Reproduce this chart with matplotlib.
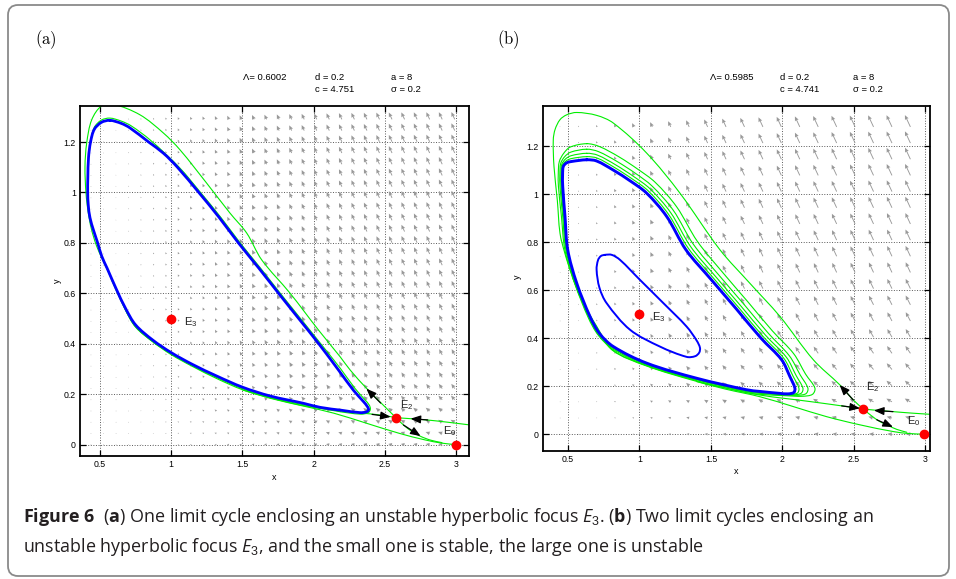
import numpy as np
import matplotlib
matplotlib.use("Agg")
import matplotlib.pyplot as plt
from matplotlib import font_manager as fm
from matplotlib.patches import FancyBboxPatch, PathPatch
from matplotlib.path import Path
from matplotlib.transforms import IdentityTransform

# ---------------- data: panel (a) ----------------
A_BLUE_X = [0.57,0.65,0.711,0.842,0.945,1.044,1.194,1.338,1.472,1.615,1.754,1.895,2.036,2.174,2.28,2.349,2.378,2.385,2.37,2.326,2.2,2.045,1.928,1.694,1.5,1.32,1.15,1.0,0.87,0.75,0.68,0.617,0.55,0.512,0.484,0.455,0.43,0.418,0.414,0.415,0.42,0.434,0.46,0.51,0.57]
A_BLUE_Y = [1.286,1.274,1.256,1.2,1.156,1.1,1.0,0.9,0.8,0.7,0.6,0.5,0.4,0.296,0.215,0.171,0.15,0.138,0.13,0.127,0.136,0.148,0.164,0.193,0.228,0.272,0.318,0.365,0.415,0.475,0.54,0.614,0.7,0.748,0.8,0.85,0.9,0.95,1.0,1.06,1.14,1.2,1.25,1.278,1.286]

A_OUTER_X = [2.577,2.486,2.373,2.256,2.185,2.033,1.835,1.635,1.53,1.413,1.249,1.062,0.945,0.781,0.594,0.512,0.442,0.407,0.395,0.402,0.418,0.44,0.475,0.515,0.555,0.62,0.68,0.75,0.87,1.0,1.15,1.32,1.5,1.694,1.93,2.16,2.33,2.384,2.398,2.39,2.36,2.29,2.185,2.05,1.908,1.766,1.627,1.484,1.35,1.206,1.056,0.855,0.72,0.65,0.57,0.51,0.46,0.43]
A_OUTER_Y = [0.107,0.158,0.222,0.296,0.349,0.455,0.6,0.733,0.839,0.918,1.037,1.169,1.236,1.308,1.35,1.344,1.288,1.196,1.103,0.998,0.92,0.855,0.79,0.738,0.69,0.608,0.533,0.468,0.409,0.36,0.313,0.266,0.222,0.188,0.158,0.133,0.121,0.127,0.141,0.157,0.178,0.223,0.304,0.4,0.5,0.6,0.7,0.8,0.9,1.0,1.1,1.207,1.264,1.283,1.295,1.287,1.258,1.2]

A_STABLE_L_X = [0.58,0.68,0.75,0.87,1.0,1.15,1.32,1.5,1.694,1.9,2.045,2.25,2.396,2.5,2.577]
A_STABLE_L_Y = [0.655,0.533,0.466,0.408,0.357,0.31,0.262,0.218,0.186,0.158,0.144,0.13,0.122,0.115,0.107]
A_TO_E0_X = [1.5,1.694,1.928,2.14,2.37,2.6,2.78,2.9,3.0]
A_TO_E0_Y = [0.217,0.184,0.153,0.125,0.085,0.045,0.019,0.006,0.0]
A_STABLE_R_X = [3.098,2.94,2.794,2.68,2.577]
A_STABLE_R_Y = [0.078,0.089,0.098,0.103,0.107]
A_UNST_DR_X = [2.577,2.63,2.69,2.75,2.82,2.9]
A_UNST_DR_Y = [0.107,0.078,0.052,0.033,0.018,0.008]

A_ARROWS = [((2.47, 0.165), (2.37, 0.222)),
            ((2.41, 0.120), (2.54, 0.110)),
            ((2.80, 0.098), (2.68, 0.103)),
            ((2.63, 0.078), (2.75, 0.034))]
A_EQ_X = [3.0, 2.577, 1.0]
A_EQ_Y = [0.0, 0.107, 0.5]
A_EQ_LABELS = [r"$\mathrm{E}_0$", r"$\mathrm{E}_2$", r"$\mathrm{E}_3$"]
A_EQ_LABEL_XY = [(2.907, 0.042), (2.607, 0.146), (1.092, 0.475)]
A_PARAMS = ["\u039b= 0.6002", "d = 0.2\nc = 4.751", "a = 8\n\u03c3 = 0.2"]

# vector field (a): grid and magnitudes
QA_X_RANGE = (0.437, 2.99, 30)
QA_Y_RANGE = (0.0, 1.29, 30)
QA_COL_MAG = [0.06,0.08,0.10,0.13,0.16,0.2,0.25,0.3,0.35,0.4,0.45,0.5,0.55,0.6,0.64,0.68,0.72,0.76,0.8,0.83,0.86,0.89,0.91,0.93,0.95,0.96,0.97,0.98,0.99,1.0]
QA_ROW_MAG = [0.5,0.55,0.6,0.65,0.7,0.73,0.76,0.79,0.82,0.84,0.86,0.88,0.9,0.91,0.92,0.93,0.94,0.95,0.96,0.97,0.97,0.98,0.98,0.99,0.99,1,1,1,1,1]
QA_ROW_ANG = [170,160,150,140,132,126,122,120,118,117,116,116,115,115,115,115,115,115,115,115,115,115,115,115,115,115,115,115,115,115]

# ---------------- data: panel (b) ----------------
B_BLUE_X = [0.631,0.70,0.817,0.94,1.05,1.19,1.325,1.5,1.68,1.85,1.994,2.052,2.087,2.08,2.04,1.983,1.843,1.75,1.4,1.05,0.817,0.72,0.654,0.561,0.498,0.479,0.463,0.462,0.467,0.49,0.526,0.631]
B_BLUE_Y = [1.143,1.138,1.10,1.053,1.004,0.907,0.768,0.645,0.52,0.40,0.31,0.24,0.192,0.174,0.168,0.17,0.178,0.185,0.233,0.296,0.365,0.42,0.49,0.629,0.768,0.907,1.032,1.08,1.115,1.13,1.136,1.143]
B_SMALL_X = [0.759,0.806,0.864,1.003,1.167,1.33,1.40,1.423,1.418,1.39,1.33,1.143,0.934,0.77,0.72,0.70,0.71,0.73,0.759]
B_SMALL_Y = [0.747,0.747,0.726,0.643,0.546,0.448,0.39,0.36,0.34,0.325,0.322,0.365,0.435,0.546,0.61,0.685,0.725,0.742,0.747]

B_OUTER_X = [2.565,2.495,2.402,2.216,1.983,1.77,1.563,1.283,1.05,0.817,0.7,0.561,0.49,0.444,0.41,0.397,0.402,0.425,0.444,0.475,0.52,0.6,0.7,0.81,1.05,1.4]
B_OUTER_Y = [0.105,0.143,0.205,0.31,0.49,0.63,0.768,1.004,1.171,1.296,1.328,1.34,1.33,1.31,1.27,1.226,1.115,0.976,0.837,0.76,0.675,0.555,0.45,0.352,0.286,0.224]

B_LOOP1_X = [0.631,0.72,0.857,0.99,1.11,1.26,1.405,1.58,1.76,1.93,2.079,2.162,2.227,2.21,2.14,2.033,1.843,1.75,1.4,1.05,0.812,0.712,0.642,0.546,0.478,0.454,0.433,0.432,0.439,0.47,0.516,0.631]
B_LOOP1_Y = [1.21,1.198,1.155,1.103,1.049,0.947,0.803,0.675,0.55,0.43,0.335,0.25,0.192,0.166,0.158,0.16,0.166,0.173,0.223,0.286,0.355,0.412,0.485,0.629,0.768,0.907,1.032,1.085,1.135,1.17,1.196,1.21]
B_LOOP2_X = [0.631,0.713,0.843,0.973,1.089,1.236,1.377,1.552,1.732,1.902,2.049,2.124,2.178,2.165,2.105,2.016,1.843,1.75,1.4,1.05,0.814,0.715,0.646,0.551,0.485,0.463,0.444,0.443,0.449,0.477,0.52,0.631]
B_LOOP2_Y = [1.187,1.177,1.136,1.086,1.033,0.933,0.791,0.665,0.54,0.42,0.326,0.247,0.192,0.169,0.162,0.164,0.17,0.177,0.227,0.29,0.359,0.415,0.487,0.629,0.768,0.907,1.032,1.083,1.128,1.156,1.175,1.187]
B_LOOP3_X = [0.631,0.708,0.833,0.96,1.074,1.218,1.357,1.532,1.712,1.882,2.028,2.096,2.143,2.132,2.08,2.003,1.843,1.75,1.4,1.05,0.815,0.717,0.649,0.555,0.49,0.469,0.451,0.45,0.456,0.482,0.522,0.631]
B_LOOP3_Y = [1.17,1.162,1.122,1.073,1.022,0.923,0.782,0.657,0.532,0.412,0.32,0.244,0.192,0.171,0.164,0.166,0.173,0.18,0.229,0.292,0.361,0.417,0.488,0.629,0.768,0.907,1.032,1.082,1.123,1.146,1.16,1.17]
B_LOOP4_X = [0.631,0.704,0.825,0.95,1.062,1.204,1.341,1.516,1.696,1.866,2.011,2.074,2.115,2.106,2.06,1.993,1.843,1.75,1.4,1.05,0.816,0.718,0.652,0.558,0.494,0.474,0.457,0.456,0.461,0.486,0.524,0.631]
B_LOOP4_Y = [1.156,1.15,1.111,1.063,1.013,0.915,0.775,0.651,0.526,0.406,0.315,0.242,0.192,0.172,0.166,0.168,0.176,0.183,0.231,0.294,0.363,0.418,0.489,0.629,0.768,0.907,1.032,1.081,1.119,1.138,1.148,1.156]

B_STABLE_L_X = [0.53,0.6,0.7,0.81,1.05,1.4,1.6,1.843,2.192,2.414,2.565]
B_STABLE_L_Y = [0.655,0.552,0.445,0.35,0.284,0.22,0.192,0.163,0.136,0.118,0.105]
B_TO_E0_X = [1.4,1.6,1.843,2.076,2.309,2.542,2.775,2.88,2.99]
B_TO_E0_Y = [0.219,0.188,0.156,0.115,0.073,0.039,0.011,0.003,0.0]
B_STABLE_R_X = [3.03,2.9,2.773,2.65,2.565]
B_STABLE_R_Y = [0.083,0.088,0.094,0.1,0.105]
B_UNST_DR_X = [2.565,2.62,2.68,2.74,2.80,2.87]
B_UNST_DR_Y = [0.105,0.078,0.053,0.036,0.02,0.008]

B_ARROWS = [((2.495, 0.143), (2.40, 0.205)),
            ((2.414, 0.118), (2.542, 0.108)),
            ((2.773, 0.094), (2.64, 0.099)),
            ((2.66, 0.060), (2.773, 0.030))]
B_EQ_X = [2.99, 2.565, 1.0]
B_EQ_Y = [0.0, 0.105, 0.5]
B_EQ_LABELS = [r"$\mathrm{E}_0$", r"$\mathrm{E}_2$", r"$\mathrm{E}_3$"]
B_EQ_LABEL_XY = [(2.868, 0.043), (2.584, 0.182), (1.085, 0.473)]
B_PARAMS = ["\u039b= 0.5985", "d = 0.2\nc = 4.741", "a = 8\n\u03c3 = 0.2"]

QB_X_RANGE = (0.445, 2.895, 20)
QB_Y_RANGE = (0.0, 1.28, 20)
QB_COL_MAG = [0.06,0.1,0.16,0.24,0.32,0.4,0.48,0.56,0.63,0.7,0.76,0.81,0.85,0.89,0.92,0.94,0.96,0.98,0.99,1.0]
QB_ROW_MAG = [0.35,0.42,0.5,0.57,0.63,0.68,0.72,0.76,0.8,0.83,0.86,0.88,0.9,0.92,0.94,0.96,0.97,0.98,0.99,1.0]
QB_ROW_ANG = [175,165,150,138,130,124,120,118,117,116,115,115,115,115,115,115,115,115,115,115]

X_TICKS = [0.5, 1, 1.5, 2, 2.5, 3]
X_TICKLABELS = ["0.5", "1", "1.5", "2", "2.5", "3"]
Y_TICKS = [0, 0.2, 0.4, 0.6, 0.8, 1.0, 1.2]
Y_TICKLABELS = ["0", "0.2", "0.4", "0.6", "0.8", "1", "1.2"]

CAPTION_1 = r"$\mathbf{Figure\ 6}$  ($\mathbf{a}$) One limit cycle enclosing an unstable hyperbolic focus $E_3$. ($\mathbf{b}$) Two limit cycles enclosing an"
CAPTION_2 = r"unstable hyperbolic focus $E_3$, and the small one is stable, the large one is unstable"

# ---------------- fonts ----------------
def available(name):
    try:
        fm.findfont(fm.FontProperties(family=name), fallback_to_default=False)
        return True
    except Exception:
        return False

SANS = "Liberation Sans" if available("Liberation Sans") else "DejaVu Sans"
CAP = next((f for f in ["Liberation Sans Narrow", "Open Sans", "Liberation Sans", "DejaVu Sans"] if available(f)), "DejaVu Sans")

plt.rcParams["font.family"] = [SANS, "DejaVu Sans"]
plt.rcParams["mathtext.fontset"] = "custom"
plt.rcParams["mathtext.rm"] = SANS
plt.rcParams["mathtext.it"] = CAP + ":italic"
plt.rcParams["mathtext.bf"] = CAP + ":bold"

W, H = 956, 579
fig = plt.figure(figsize=(W / 100, H / 100), dpi=100)

def fx(px):
    return px / W

def fy(py):
    return 1 - py / H

frame = FancyBboxPatch((8, 3), 941, 571, boxstyle="round,pad=0,rounding_size=10",
                       transform=IdentityTransform(), fill=False, edgecolor="#8a8a8a", lw=1.3)
fig.patches.append(frame)

GREEN = "#00ee00"
BLUE = "#0000ff"


def setup_axes(rect, xlim, ylim, xlab_pos, ylab_pos):
    ax = fig.add_axes(rect)
    ax.set_xlim(*xlim)
    ax.set_ylim(*ylim)
    ax.set_xticks(X_TICKS)
    ax.set_xticklabels(X_TICKLABELS)
    ax.set_yticks(Y_TICKS)
    ax.set_yticklabels(Y_TICKLABELS)
    ax.tick_params(direction="in", top=True, right=True, length=4, width=0.9,
                   labelsize=6.3, pad=3)
    ax.grid(True, ls=":", color="0.35", lw=0.7, zorder=0)
    ax.set_axisbelow(True)
    for s in ax.spines.values():
        s.set_linewidth(1.3)
    ax.text(xlab_pos[0], xlab_pos[1], "x", transform=ax.transAxes, ha="center", va="center", fontsize=6.5)
    ax.text(ylab_pos[0], ylab_pos[1], "y", transform=ax.transAxes, ha="center", va="center",
            fontsize=6.5, rotation=90)
    return ax


def smooth_curve(ax, xs, ys, color, lw, zorder, closed=False):
    """Draw a smooth curve passing through the given points (cubic Bezier segments)."""
    P = np.column_stack([xs, ys]).astype(float)
    x0, x1 = ax.get_xlim()
    y0, y1 = ax.get_ylim()
    bb = ax.get_position()
    S = np.array([bb.width * W / (x1 - x0), bb.height * H / (y1 - y0)])
    if closed:
        P = P[:-1]
    n = len(P)

    def pt(i):
        if closed:
            return P[i % n]
        return P[min(max(i, 0), n - 1)]

    def tangent(i):
        a, b, c = pt(i - 1), pt(i), pt(i + 1)
        d1 = np.linalg.norm((b - a) * S)
        d2 = np.linalg.norm((c - b) * S)
        if d1 + d2 == 0:
            return np.zeros(2)
        return (c - a) / (d1 + d2)

    verts = [P[0]]
    codes = [Path.MOVETO]
    nseg = n if closed else n - 1
    for i in range(nseg):
        p1, p2 = pt(i), pt(i + 1)
        d = np.linalg.norm((p2 - p1) * S)
        c1 = p1 + tangent(i) * d / 3.0
        c2 = p2 - tangent(i + 1) * d / 3.0
        verts += [c1, c2, p2]
        codes += [Path.CURVE4] * 3
    patch = PathPatch(Path(verts, codes), fill=False, edgecolor=color, lw=lw,
                      zorder=zorder, capstyle="round", joinstyle="round")
    ax.add_patch(patch)


def draw_field(ax, xr, yr, colmag, rowmag, rowang, lmax):
    X, Y = np.meshgrid(np.linspace(*xr), np.linspace(*yr))
    M = np.outer(rowmag, colmag) * lmax
    A = np.deg2rad(np.array(rowang, dtype=float))[:, None]
    U = M * np.cos(A)
    V = M * np.sin(A)
    ax.quiver(X, Y, U, V, angles="uv", scale_units="dots", scale=1, units="dots",
              width=0.9, headwidth=4.5, headlength=5, headaxislength=4.5, minlength=0.8,
              pivot="tail", color="0.6", zorder=1)


def draw_arrows(ax, arrows):
    for tail, head in arrows:
        ax.annotate("", xy=head, xytext=tail,
                    arrowprops=dict(arrowstyle="-|>,head_length=0.5,head_width=0.2",
                                    color="k", lw=0.9, shrinkA=0, shrinkB=0,
                                    mutation_scale=12),
                    zorder=4)


def draw_eq(ax, xs, ys, labels, label_xy):
    ax.plot(xs, ys, "o", color="#ff0000", ms=6, mec="#ff0000", zorder=5, clip_on=False)
    for lab, (lx, ly) in zip(labels, label_xy):
        ax.text(lx, ly, lab, fontsize=8, ha="left", va="baseline", color="#222222", zorder=6)


# ---------------- panel (a) ----------------
ax_a = setup_axes([fx(80), fy(456), 389 / W, 350 / H], (0.36, 3.09), (-0.045, 1.343),
                  (0.4987, -0.062), (-0.0566, 0.501))
draw_field(ax_a, QA_X_RANGE, QA_Y_RANGE, QA_COL_MAG, QA_ROW_MAG, QA_ROW_ANG, 8)
for xs, ys in [(A_OUTER_X, A_OUTER_Y), (A_STABLE_L_X, A_STABLE_L_Y), (A_TO_E0_X, A_TO_E0_Y),
               (A_STABLE_R_X, A_STABLE_R_Y), (A_UNST_DR_X, A_UNST_DR_Y)]:
    smooth_curve(ax_a, xs, ys, GREEN, 0.8, 2)
smooth_curve(ax_a, A_BLUE_X, A_BLUE_Y, BLUE, 2.0, 3, closed=True)
draw_arrows(ax_a, A_ARROWS)
draw_eq(ax_a, A_EQ_X, A_EQ_Y, A_EQ_LABELS, A_EQ_LABEL_XY)

# ---------------- panel (b) ----------------
ax_b = setup_axes([fx(542.7), fy(451), 387 / W, 345 / H], (0.323, 3.03), (-0.07, 1.367),
                  (0.4987, -0.06), (-0.064, 0.505))
draw_field(ax_b, QB_X_RANGE, QB_Y_RANGE, QB_COL_MAG, QB_ROW_MAG, QB_ROW_ANG, 13)
for xs, ys in [(B_OUTER_X, B_OUTER_Y), (B_STABLE_L_X, B_STABLE_L_Y), (B_TO_E0_X, B_TO_E0_Y),
               (B_STABLE_R_X, B_STABLE_R_Y), (B_UNST_DR_X, B_UNST_DR_Y)]:
    smooth_curve(ax_b, xs, ys, GREEN, 0.8, 2)
for xs, ys in [(B_LOOP1_X, B_LOOP1_Y), (B_LOOP2_X, B_LOOP2_Y),
               (B_LOOP3_X, B_LOOP3_Y), (B_LOOP4_X, B_LOOP4_Y)]:
    smooth_curve(ax_b, xs, ys, GREEN, 0.8, 2, closed=True)
smooth_curve(ax_b, B_BLUE_X, B_BLUE_Y, BLUE, 2.1, 3, closed=True)
smooth_curve(ax_b, B_SMALL_X, B_SMALL_Y, BLUE, 1.4, 3, closed=True)
draw_arrows(ax_b, B_ARROWS)
draw_eq(ax_b, B_EQ_X, B_EQ_Y, B_EQ_LABELS, B_EQ_LABEL_XY)

# ---------------- parameter texts ----------------
def param_texts(params, xs):
    fig.text(fx(xs[0]), fy(78), params[0], fontsize=6.8, ha="left", va="center")
    for s, x in zip(params[1:], xs[1:]):
        top, bot = s.split("\n")
        fig.text(fx(x), fy(78), top, fontsize=6.8, ha="left", va="center")
        fig.text(fx(x), fy(90), bot, fontsize=6.8, ha="left", va="center")

param_texts(A_PARAMS, [243, 315, 391])
param_texts(B_PARAMS, [710, 780, 852.7])

fig.text(fx(35), fy(40), r"$\mathrm{(a)}$", math_fontfamily="cm", fontsize=12, ha="left", va="center")
fig.text(fx(497), fy(40), r"$\mathrm{(b)}$", math_fontfamily="cm", fontsize=12, ha="left", va="center")

# ---------------- caption ----------------
t1 = fig.text(fx(23), fy(522), CAPTION_1, fontsize=11, family=[CAP, "DejaVu Sans"],
              ha="left", va="baseline", color="#231f20")
renderer = fig.canvas.get_renderer()
w1 = t1.get_window_extent(renderer).width
size = 11 * 852.0 / w1
t1.set_fontsize(size)
fig.text(fx(23), fy(552), CAPTION_2, fontsize=size, family=[CAP, "DejaVu Sans"],
         ha="left", va="baseline", color="#231f20")

fig.savefig("out.png", dpi=100)
